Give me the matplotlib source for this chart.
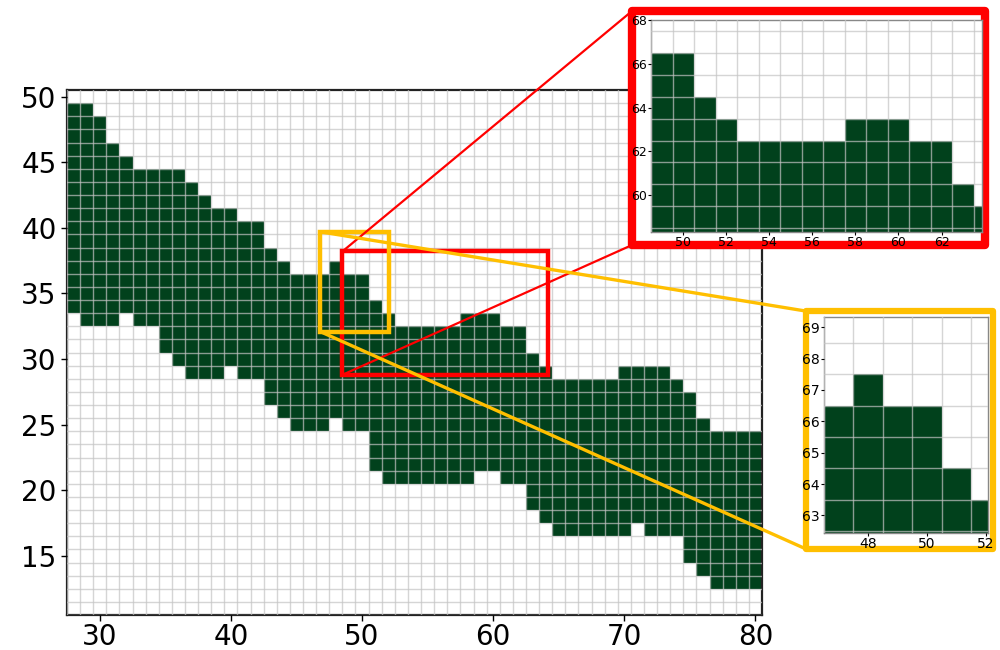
import numpy as np
import matplotlib
matplotlib.use("Agg")
from matplotlib import pyplot as plt
from matplotlib.patches import Rectangle, ConnectionPatch
from matplotlib.ticker import MultipleLocator, FuncFormatter

# filled band: for every column the highest and lowest filled cell
columns = list(range(28, 81))
band_top = [49, 49, 48, 46, 45, 44, 44, 44, 44, 43, 42, 41, 41, 40, 40, 38, 37,
            36, 36, 36, 37, 36, 36, 34, 33, 32, 32, 32, 32, 32, 33, 33, 33, 32,
            32, 30, 29, 28, 28, 28, 28, 28, 29, 29, 29, 29, 28, 27, 25, 24, 24,
            24, 24]
band_bottom = [34, 33, 33, 33, 34, 33, 33, 31, 30, 29, 29, 29, 30, 29, 29, 27, 26,
               25, 25, 25, 26, 25, 25, 22, 21, 21, 21, 21, 21, 21, 21, 22, 22, 21,
               21, 19, 18, 17, 17, 17, 17, 17, 17, 18, 17, 17, 17, 15, 14, 13, 13,
               13, 13]

# the zoom panels print their y values shifted by this
inset_y_offset = 30

# zoom regions (main data coords) and the panel limits
red_box = (48.5, 28.8, 64.2, 38.2)
yellow_box = (46.8, 32.1, 52.05, 39.7)
red_xlim, red_ylim = (48.62, 63.88), (28.32, 38.0)
yellow_xlim, yellow_ylim = (46.82, 52.07), (32.44, 39.32)

green = "#01411c"
red = "#ff0000"
yellow = "#ffbf00"

lows = np.array(band_bottom) - 0.5
heights = np.array(band_top) - np.array(band_bottom) + 1


def draw_cells(ax, xlim, ylim):
  ax.bar(columns, heights, bottom=lows, width=1.0, color=green, linewidth=0)
  ax.set_xlim(*xlim)
  ax.set_ylim(*ylim)
  ax.set_xticks(np.arange(np.floor(xlim[0]) + 0.5, xlim[1], 1), minor=True)
  ax.set_yticks(np.arange(np.floor(ylim[0]) + 0.5, ylim[1], 1), minor=True)
  ax.grid(which="minor", color="#c4c4c4", alpha=0.7, linewidth=1.0)
  ax.set_axisbelow(False)
  ax.tick_params(which="minor", length=0)


fig = plt.figure(figsize=(10, 6.5), dpi=100)

# main panel
ax = fig.add_axes([0.067, 0.0538, 0.695, 0.8077], zorder=0)
draw_cells(ax, (27.5, 80.5), (10.5, 50.5))
ax.xaxis.set_major_locator(MultipleLocator(10))
ax.yaxis.set_major_locator(MultipleLocator(5))
ax.tick_params(which="major", labelsize=20, length=4, width=1)
ax.tick_params(axis="x", which="major", pad=2)
for s in ax.spines.values():
  s.set_linewidth(1.6)
  s.set_color("#222222")

for box, col in [(red_box, red), (yellow_box, yellow)]:
  ax.add_patch(Rectangle((box[0], box[1]), box[2] - box[0], box[3] - box[1],
                         fill=False, edgecolor=col, linewidth=3.2, zorder=5))

# frames around the zoom panels (figure coords)
red_frame = (0.632, 0.623, 0.353, 0.36)
yellow_frame = (0.806, 0.1554, 0.187, 0.366)
fig.add_artist(Rectangle(red_frame[:2], red_frame[2], red_frame[3], transform=fig.transFigure,
                         facecolor="white", edgecolor=red, linewidth=6, joinstyle="round", zorder=2))
fig.add_artist(Rectangle(yellow_frame[:2], yellow_frame[2], yellow_frame[3], transform=fig.transFigure,
                         facecolor="white", edgecolor=yellow, linewidth=4.5, joinstyle="round", zorder=2))

# connector lines
links = [
  ((red_box[0], red_box[3]), (red_frame[0], red_frame[1] + red_frame[3]), red, 1.6),
  ((red_box[0], red_box[1]), (red_frame[0], red_frame[1]), red, 1.6),
  ((yellow_box[0], yellow_box[3]), (yellow_frame[0], yellow_frame[1] + yellow_frame[3]), yellow, 2.4),
  ((yellow_box[0], yellow_box[1]), (yellow_frame[0], yellow_frame[1]), yellow, 2.4),
]
for a, b, col, lw in links:
  con = ConnectionPatch(xyA=a, coordsA=ax.transData, xyB=b, coordsB=fig.transFigure,
                        color=col, linewidth=lw, zorder=1.5)
  fig.add_artist(con)

shift = FuncFormatter(lambda v, p: f"{v + inset_y_offset:g}")

# red zoom panel
axr = fig.add_axes([0.651, 0.643, 0.331, 0.326], zorder=3)
draw_cells(axr, red_xlim, red_ylim)
axr.xaxis.set_major_locator(MultipleLocator(2))
axr.yaxis.set_major_locator(MultipleLocator(2))
axr.yaxis.set_major_formatter(shift)
axr.tick_params(which="major", labelsize=9, length=2, pad=1)

# yellow zoom panel
axy = fig.add_axes([0.824, 0.18, 0.164, 0.332], zorder=3)
draw_cells(axy, yellow_xlim, yellow_ylim)
axy.xaxis.set_major_locator(MultipleLocator(2))
axy.yaxis.set_major_locator(MultipleLocator(1))
axy.yaxis.set_major_formatter(shift)
axy.tick_params(which="major", labelsize=10, length=2, pad=1)

for a in (axr, axy):
  for s in a.spines.values():
    s.set_color("#888888")
    s.set_linewidth(1.0)

fig.savefig("out.png", dpi=100)
